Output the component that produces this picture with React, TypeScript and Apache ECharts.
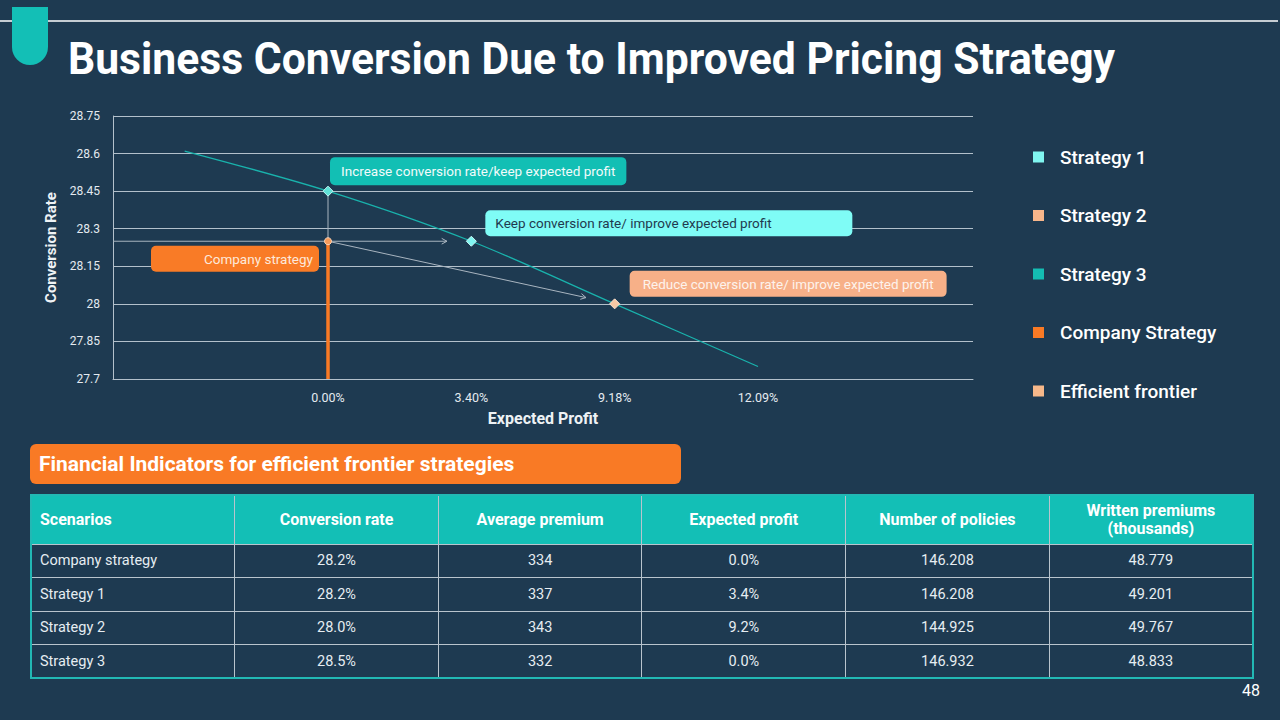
import React, { useEffect, useRef } from "react";
import * as echarts from "echarts";

// ---------- data ----------
const xCategories = ["", "0.00%", "3.40%", "9.18%", "12.09%", ""];
const frontierValues = [28.61, 28.45, 28.25, 28.0, 27.75];
const strategy1Point: [string, number] = ["3.40%", 28.25];
const strategy2Point: [string, number] = ["9.18%", 28.0];
const strategy3Point: [string, number] = ["0.00%", 28.45];
const companyPoint: [string, number] = ["0.00%", 28.25];
const companyBase: [string, number] = ["0.00%", 27.7];
const yMin = 27.7;
const yMax = 28.75;
const yStep = 0.15;

const legendNames = ["Strategy 1", "Strategy 2", "Strategy 3", "Company Strategy", "Efficient frontier"];
const legendColors = ["#80f6f1", "#f7b68b", "#14bdb3", "#f97a25", "#f7b88a"];

const noteStrategy3 = "Increase conversion rate/keep expected profit";
const noteStrategy1 = "Keep conversion rate/ improve expected profit";
const noteStrategy2 = "Reduce conversion rate/ improve expected profit";
const noteCompany = "Company strategy";

const titleText = "Business Conversion Due to Improved Pricing Strategy";
const bannerText = "Financial Indicators for efficient frontier strategies";
const pageNumber = "48";

const tableHeaders = ["Scenarios", "Conversion rate", "Average premium", "Expected profit", "Number of policies", "Written premiums\n(thousands)"];
const scenarios = ["Company strategy", "Strategy 1", "Strategy 2", "Strategy 3"];
const conversionRates = ["28.2%", "28.2%", "28.0%", "28.5%"];
const avgPremiums = ["334", "337", "343", "332"];
const expectedProfits = ["0.0%", "3.4%", "9.2%", "0.0%"];
const policies = ["146.208", "146.208", "144.925", "146.932"];
const writtenPremiums = ["48.779", "49.201", "49.767", "48.833"];

const BG = "#1e3a51";
const GRID_LEFT = 113;
const GRID_TOP = 116;
const GRID_W = 860;
const GRID_H = 263;
const FONT = "Roboto, 'Noto Sans', sans-serif";

function noteLabel(text: string, bg: string, color: string, position: number[], extra: any = {}) {
  return {
    show: true,
    position,
    formatter: text,
    backgroundColor: bg,
    color,
    fontSize: 13.5,
    lineHeight: 12,
    fontFamily: FONT,
    borderRadius: 5,
    padding: [7, 11],
    opacity: 1,
    ...extra,
  };
}

export default function App() {
  const ref = useRef<HTMLDivElement>(null);

  useEffect(() => {
    const el = ref.current;
    if (!el) return;
    const chart = echarts.init(el, null, { renderer: "svg" });

    const option: any = {
      animation: false,
      backgroundColor: "transparent",
      textStyle: { fontFamily: FONT },
      grid: { left: GRID_LEFT, top: GRID_TOP, width: GRID_W, height: GRID_H, containLabel: false },
      xAxis: {
        type: "category",
        data: xCategories,
        boundaryGap: true,
        axisLine: { show: true, lineStyle: { color: "#b3c0cb", width: 1 } },
        axisTick: { show: false },
        axisLabel: { color: "#e4eaf0", fontSize: 12.5, margin: 12 },
        splitLine: { show: false },
        name: "Expected Profit",
        nameLocation: "middle",
        nameGap: 31,
        nameTextStyle: { color: "#eef2f5", fontSize: 16, fontWeight: "bold", verticalAlign: "top" },
      },
      yAxis: {
        type: "value",
        min: yMin,
        max: yMax,
        interval: yStep,
        axisLine: { show: true, lineStyle: { color: "#b3c0cb", width: 1 } },
        axisTick: { show: false },
        axisLabel: { color: "#e4eaf0", fontSize: 12, margin: 13 },
        splitLine: { show: true, lineStyle: { color: "#b3c0cb", width: 1 } },
        name: "Conversion Rate",
        nameLocation: "middle",
        nameGap: 42,
        nameTextStyle: { color: "#eef2f5", fontSize: 15, fontWeight: "bold" },
      },
      legend: {
        orient: "vertical",
        left: 1028,
        top: 142,
        itemGap: 38.5,
        itemWidth: 11,
        itemHeight: 11,
        icon: "rect",
        selectedMode: false,
        itemStyle: { borderWidth: 0, opacity: 1 },
        data: legendNames.map((n, i) => ({ name: n, itemStyle: { color: legendColors[i], borderWidth: 0, opacity: 1 } })),
        textStyle: { color: "#ffffff", fontSize: 19, fontWeight: 500, lineHeight: 20, padding: [0, 0, 0, 11], fontFamily: FONT },
      },
      series: [
        {
          name: "Efficient frontier",
          type: "line",
          data: frontierValues,
          smooth: 0.3,
          showSymbol: false,
          symbol: "none",
          lineStyle: { color: "#19b2ac", width: 1.3 },
          itemStyle: { color: "#f7b88a" },
          z: 2,
        },
        {
          name: "Company Strategy",
          type: "line",
          data: [
            {
              value: companyPoint,
              symbol: "circle",
              symbolSize: 7,
              label: noteLabel(noteCompany, "#f97b26", "#fde9da", [-5, 8.5], {
                align: "right",
                width: 156,
                padding: [7, 6],
              }),
            },
            { value: companyBase, symbol: "none" },
          ],
          lineStyle: { color: "#f97a25", width: 3.5 },
          itemStyle: { color: "#f59a5a", borderColor: "#fcd3b5", borderWidth: 1, opacity: 1 },
          z: 4,
        },
        {
          name: "Strategy 3",
          type: "scatter",
          symbol: "diamond",
          symbolSize: 10,
          itemStyle: { color: "#5fe1d7", borderColor: "#bff5f1", borderWidth: 1, opacity: 1 },
          data: [{ value: strategy3Point, label: noteLabel(noteStrategy3, "#12bfb4", "#f3fbfb", [7.5, -28.5], { padding: [8, 11] }) }],
          z: 5,
        },
        {
          name: "Strategy 1",
          type: "scatter",
          symbol: "diamond",
          symbolSize: 10,
          itemStyle: { color: "#80f6f1", borderColor: "#c9fbf9", borderWidth: 1, opacity: 1 },
          data: [{ value: strategy1Point, label: noteLabel(noteStrategy1, "#7ffcf6", "#1f3a4f", [19.5, -25.5], { width: 347, padding: [7, 10] }) }],
          z: 5,
        },
        {
          name: "Strategy 2",
          type: "scatter",
          symbol: "diamond",
          symbolSize: 10,
          itemStyle: { color: "#f7c8a4", borderColor: "#fbe3d0", borderWidth: 1, opacity: 1 },
          data: [{ value: strategy2Point, label: noteLabel(noteStrategy2, "#f7b088", "#fdf3ec", [20.5, -27.5], { padding: [7, 13] }) }],
          z: 5,
        },
      ],
    };

    chart.setOption(option);

    // helper: pixel of a [category, value] point through the chart's own scales
    const px = (p: [string, number]) =>
      chart.convertToPixel({ seriesIndex: 0 }, [xCategories.indexOf(p[0]), p[1]]) as number[];
    const pC = px(companyPoint);
    const p3 = px(strategy3Point);
    const p1 = px(strategy1Point);
    const p2 = px(strategy2Point);

    const gray = "#a9b5c0";
    const arrowHead = (from: number[], to: number[]) => {
      const ang = Math.atan2(to[1] - from[1], to[0] - from[0]);
      const L = 6;
      const a1 = ang + Math.PI - 0.5;
      const a2 = ang + Math.PI + 0.5;
      return {
        type: "polyline",
        z: 1,
        shape: {
          points: [
            [to[0] + L * Math.cos(a1), to[1] + L * Math.sin(a1)],
            [to[0], to[1]],
            [to[0] + L * Math.cos(a2), to[1] + L * Math.sin(a2)],
          ],
        },
        style: { stroke: gray, lineWidth: 1, fill: null },
      };
    };
    const end1 = [pC[0] + 0.83 * (p1[0] - pC[0]), pC[1]];
    const end2 = [pC[0] + 0.9 * (p2[0] - pC[0]), pC[1] + 0.9 * (p2[1] - pC[1])];

    // title scale to condensed width
    const ctx = document.createElement("canvas").getContext("2d");
    let titleScale = 1;
    if (ctx) {
      ctx.font = "bold 44px Roboto";
      const w = ctx.measureText(titleText).width;
      if (w > 0) titleScale = 1047 / w;
    }

    chart.setOption({
      graphic: {
        elements: [
          { type: "line", z: 0, shape: { x1: 0, y1: 21, x2: 1278, y2: 21 }, style: { stroke: "#ffffff", lineWidth: 1.5 } },
          { type: "rect", z: 1, shape: { x: 12, y: 7, width: 36, height: 58, r: [0, 0, 18, 18] }, style: { fill: "#13bfb6" } },
          {
            type: "text",
            z: 2,
            x: 68,
            y: 59,
            scaleX: titleScale,
            style: {
              text: titleText,
              font: "bold 44px Roboto",
              fill: "#ffffff",
              verticalAlign: "middle",
              align: "left",
              shadowColor: "rgba(0,0,0,0.55)",
              shadowOffsetX: 2,
              shadowOffsetY: 2,
              shadowBlur: 2,
            },
          },
          { type: "line", z: 1, shape: { x1: GRID_LEFT, y1: pC[1], x2: pC[0], y2: pC[1] }, style: { stroke: gray, lineWidth: 1 } },
          { type: "line", z: 1, shape: { x1: p3[0], y1: p3[1], x2: pC[0], y2: pC[1] }, style: { stroke: gray, lineWidth: 1 } },
          { type: "line", z: 1, shape: { x1: pC[0], y1: pC[1], x2: end1[0], y2: end1[1] }, style: { stroke: gray, lineWidth: 1 } },
          arrowHead(pC, end1),
          { type: "line", z: 1, shape: { x1: pC[0], y1: pC[1], x2: end2[0], y2: end2[1] }, style: { stroke: gray, lineWidth: 1 } },
          arrowHead(pC, end2),
        ],
      },
    });

    return () => chart.dispose();
  }, []);

  const cellBorder = "1px solid #b9c4cd";
  const colW = 1222 / 6;

  return (
    <div
      style={{
        position: "fixed",
        left: 0,
        top: 0,
        width: 1280,
        height: 720,
        background: BG,
        overflow: "hidden",
        fontFamily: FONT,
      }}
    >
      <div ref={ref} style={{ position: "absolute", left: 0, top: 0, width: 1280, height: 720 }} />
      <div
        style={{
          position: "absolute",
          left: 30,
          top: 444,
          width: 651,
          height: 40,
          background: "#f97a25",
          borderRadius: 6,
          color: "#ffffff",
          fontWeight: 700,
          fontSize: 21,
          lineHeight: "40px",
          paddingLeft: 9,
          boxSizing: "border-box",
          whiteSpace: "nowrap",
        }}
      >
        {bannerText}
      </div>
      <table
        style={{
          position: "absolute",
          left: 30,
          top: 494,
          width: 1222,
          borderCollapse: "collapse",
          tableLayout: "fixed",
          border: "2px solid #22b8b4",
          fontSize: 14.5,
          color: "#e6edf2",
        }}
      >
        <colgroup>
          {tableHeaders.map((_, i) => (
            <col key={i} style={{ width: colW }} />
          ))}
        </colgroup>
        <thead>
          <tr style={{ height: 49, background: "#13bfb6" }}>
            {tableHeaders.map((h, i) => (
              <th
                key={i}
                style={{
                  border: cellBorder,
                  color: "#ffffff",
                  fontWeight: 700,
                  fontSize: 16,
                  lineHeight: "18px",
                  textAlign: i === 0 ? "left" : "center",
                  padding: i === 0 ? "0 0 0 8px" : 0,
                  whiteSpace: "pre-line",
                }}
              >
                {h}
              </th>
            ))}
          </tr>
        </thead>
        <tbody>
          {scenarios.map((s, r) => {
            const row = [s, conversionRates[r], avgPremiums[r], expectedProfits[r], policies[r], writtenPremiums[r]];
            return (
              <tr key={r} style={{ height: 33.5 }}>
                {row.map((v, i) => (
                  <td
                    key={i}
                    style={{
                      border: cellBorder,
                      textAlign: i === 0 ? "left" : "center",
                      padding: i === 0 ? "0 0 0 8px" : 0,
                    }}
                  >
                    {v}
                  </td>
                ))}
              </tr>
            );
          })}
        </tbody>
      </table>
      <div style={{ position: "absolute", left: 1230, top: 681, width: 30, textAlign: "right", color: "#ffffff", fontSize: 16 }}>
        {pageNumber}
      </div>
    </div>
  );
}
